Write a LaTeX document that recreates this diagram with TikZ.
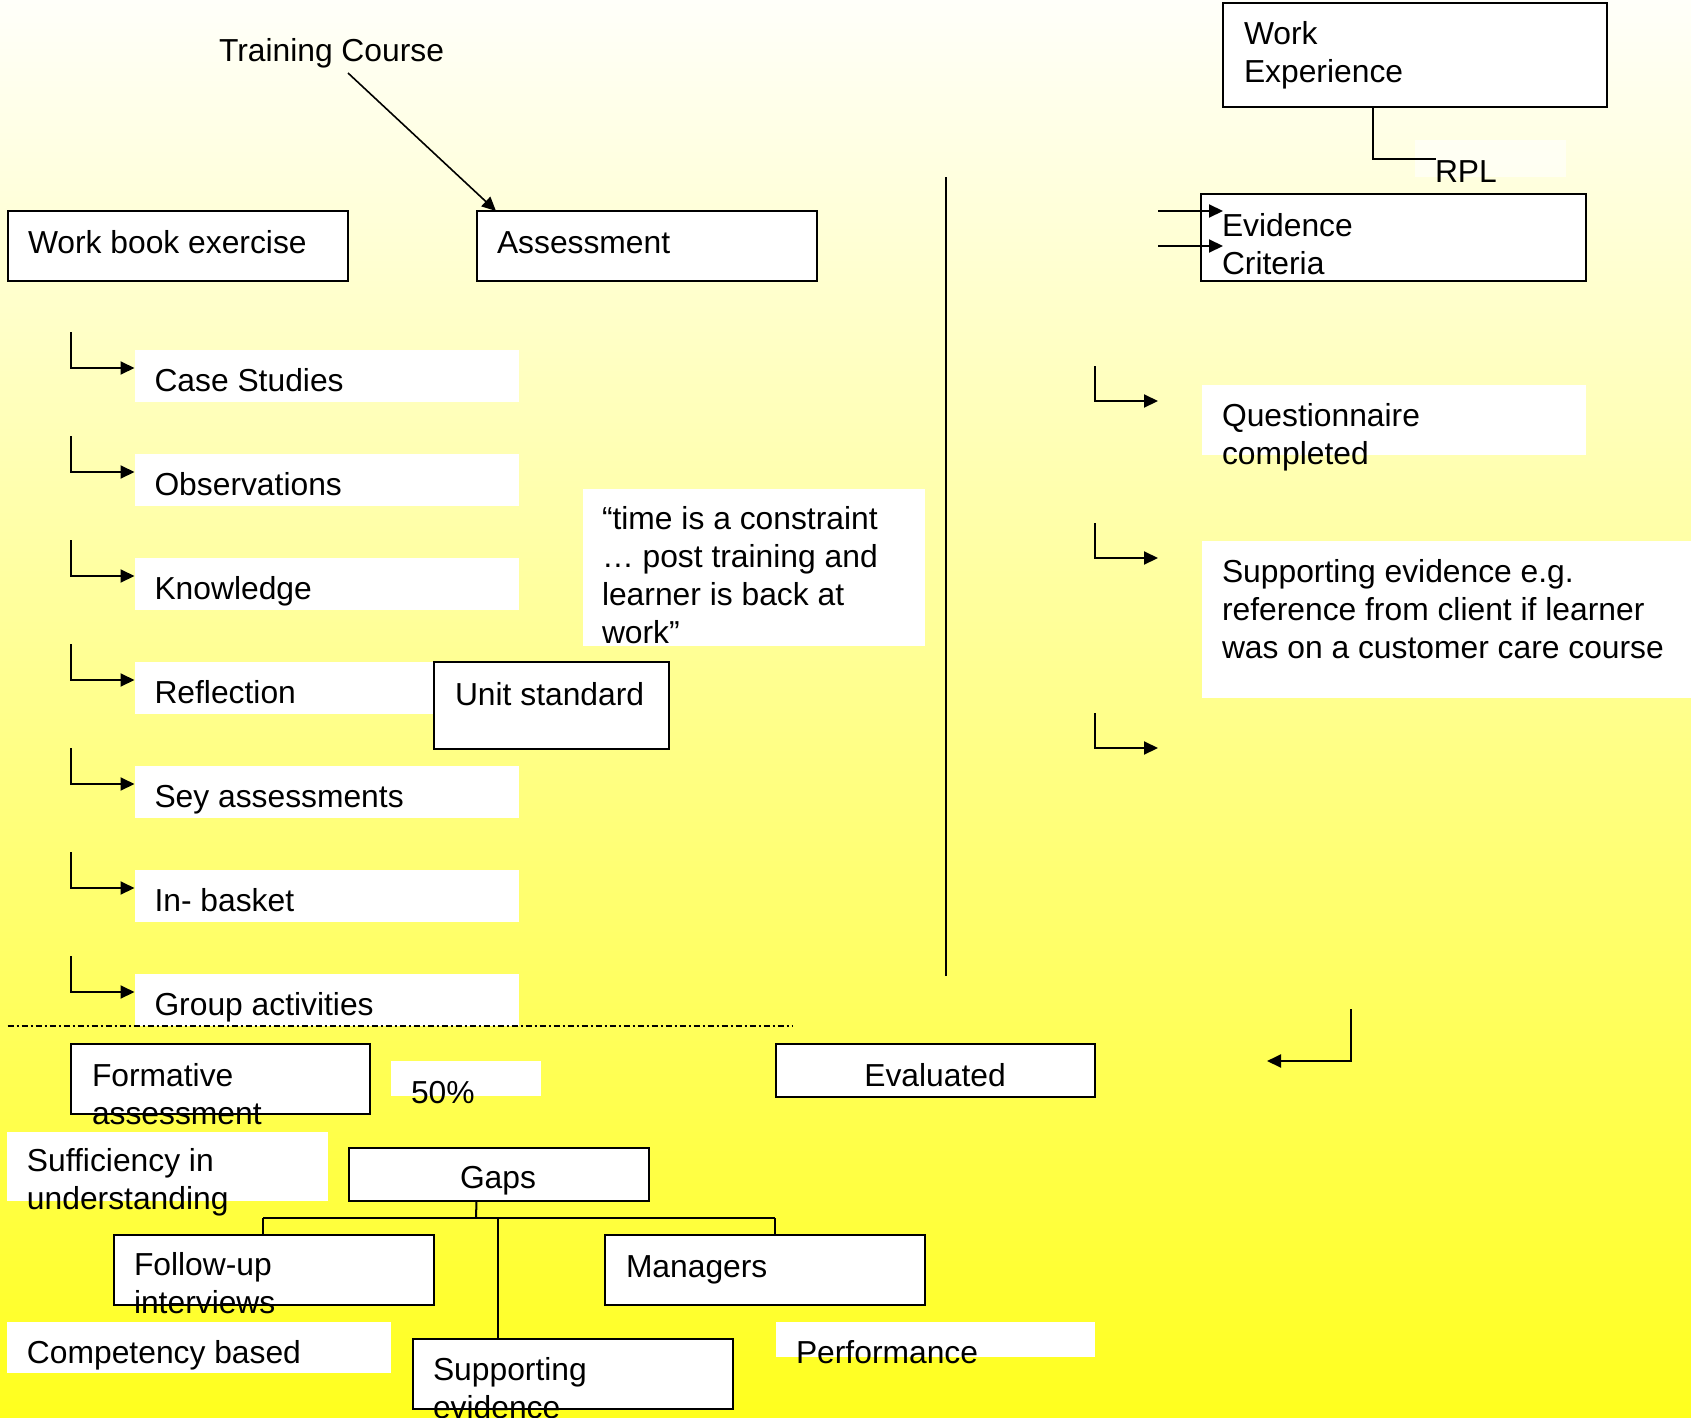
\documentclass[tikz,border=0pt]{standalone}
\usepackage{fontspec}
\setmainfont{Liberation Sans}
\usetikzlibrary{arrows.meta}

\definecolor{bgtop}{RGB}{255,255,250}
\definecolor{bgmid}{RGB}{255,255,170}
\definecolor{bgbot}{RGB}{255,255,30}

% multi-line labels are placed by the baseline of their last line
\tikzset{
  lbl/.style={inner sep=0pt, outer sep=0pt, anchor=base west, align=left,
              font=\fontsize{31.8}{38}\selectfont},
  lblc/.style={lbl, anchor=base, align=center},
  boxframe/.style={draw=black, line width=2pt, fill=white, inner sep=0pt,
                   outer sep=0pt, anchor=north west},
  whitepatch/.style={fill=white, draw=none, inner sep=0pt, outer sep=0pt,
                     anchor=north west},
  link/.style={line width=2pt},
  arrowlink/.style={link, -{Triangle[length=14pt,width=13pt]}},
  dashdotline/.style={line width=2pt, dash pattern=on 6pt off 3pt on 2pt off 3pt},
}

\begin{document}
\begin{tikzpicture}[x=1pt, y=-1pt]
  % page and background gradient
  \useasboundingbox (0,0) rectangle (1691,1418);
  \shade[top color=bgtop, middle color=bgmid, bottom color=bgbot]
    (0,0) rectangle (1691,1418);

  % ---------- upper left: training course ----------
  \node[lbl] (tc) at (219,62) {Training Course};
  \node[boxframe, minimum width=340pt, minimum height=70pt] (wb) at (7.5,211) {};
  \node[lbl] (wbt) at (28,253) {Work book exercise};
  \node[boxframe, minimum width=340pt, minimum height=70pt] (as) at (477,211) {};
  \node[lbl] (ast) at (497,253) {Assessment};
  \coordinate (tcfoot) at (348,73);
  \coordinate (astip) at (496,211);
  \draw[arrowlink, line width=1.6pt] (tcfoot) -- (astip);

  % list of assessment methods
  \foreach \i/\nm/\txt in {0/cs/Case Studies, 1/ob/Observations, 2/kn/Knowledge,
      3/rf/Reflection, 4/sa/Sey assessments, 5/ib/In- basket, 6/ga/Group activities} {
    \pgfmathsetmacro\yy{368+104*\i}
    \node[whitepatch, minimum width=384.5pt, minimum height=52pt] (\nm box) at (134.5,{\yy-18}) {};
    \node[lbl] (\nm txt) at (154.5,{\yy+23}) {\txt};
    \coordinate (\nm top) at (71,{\yy-36});
    \coordinate (\nm tip) at (134.5,\yy);
    \draw[arrowlink] (\nm top) |- (\nm tip);
  }

  % quotation
  \node[whitepatch, minimum width=342pt, minimum height=157pt] (qbox) at (583,489) {};
  \node[lbl] (qtxt) at (602,643) {“time is a constraint\\… post training and\\learner is back at\\work”};

  % unit standard
  \node[boxframe, minimum width=235pt, minimum height=87pt] (us) at (434,662) {};
  \node[lbl] (ust) at (455,705) {Unit standard};

  % divider
  \coordinate (divtop) at (946,177);
  \coordinate (divbot) at (946,976);
  \draw[link] (divtop) -- (divbot);

  % ---------- upper right: work experience ----------
  \node[boxframe, minimum width=384pt, minimum height=104pt] (we) at (1223,3) {};
  \node[lbl] (wet) at (1244,83) {Work\\Experience};
  \node[whitepatch, minimum width=151pt, minimum height=37pt, fill opacity=0.6] (rplbox) at (1415,140) {};
  \node[lbl] (rpl) at (1435,182) {RPL};
  \coordinate (rplend) at (1436,159);
  \draw[link] ([xshift=-42pt]we.south) |- (rplend);

  \node[boxframe, minimum width=385pt, minimum height=87pt] (ev) at (1201,194) {};
  \node[lbl] (evt) at (1222,274) {Evidence\\Criteria};
  \coordinate (evinA) at (1158,211);
  \coordinate (evtipA) at (1223,211);
  \coordinate (evinB) at (1158,246);
  \coordinate (evtipB) at (1223,246);
  \draw[arrowlink] (evinA) -- (evtipA);
  \draw[arrowlink] (evinB) -- (evtipB);

  \foreach \nm/\yy in {ra/401, rb/558, rc/748} {
    \coordinate (\nm top) at (1095,{\yy-35});
    \coordinate (\nm tip) at (1158,\yy);
    \draw[arrowlink] (\nm top) |- (\nm tip);
  }
  \node[whitepatch, minimum width=384pt, minimum height=70pt] (qnbox) at (1202,385) {};
  \node[lbl] (qnt) at (1222,464) {Questionnaire\\completed};
  \node[whitepatch, minimum width=489pt, minimum height=157pt] (sebox) at (1202,541) {};
  \node[lbl] (set) at (1222,658) {Supporting evidence e.g.\\reference from client if learner\\was on a customer care course};

  % ---------- lower part ----------
  \coordinate (dashL) at (7.5,1026);
  \coordinate (dashR) at (793,1026);
  \draw[dashdotline] (dashL) -- (dashR);

  \coordinate (backtop) at (1351,1009);
  \coordinate (backtip) at (1267,1061);
  \draw[arrowlink] (backtop) |- (backtip);

  \node[boxframe, minimum width=299pt, minimum height=70pt] (fa) at (71,1044) {};
  \node[lbl] (fat) at (92,1124) {Formative\\assessment};
  \node[whitepatch, minimum width=150pt, minimum height=35pt] (pcbox) at (391,1061) {};
  \node[lbl] (pct) at (411,1103) {50\%};
  \node[boxframe, minimum width=319.5pt, minimum height=53pt] (evl) at (775.5,1044) {};
  \node[lblc] (evlt) at (935,1086) {Evaluated};

  \node[whitepatch, minimum width=321pt, minimum height=69pt] (sfbox) at (7,1132) {};
  \node[lbl] (sft) at (27,1209) {Sufficiency in\\understanding};

  \node[boxframe, minimum width=300pt, minimum height=53pt] (gp) at (348.5,1148) {};
  \node[lblc] (gpt) at (498,1188) {Gaps};

  \node[boxframe, minimum width=320pt, minimum height=70pt] (fu) at (114,1235) {};
  \node[lbl] (fut) at (134,1313) {Follow-up\\interviews};
  \node[boxframe, minimum width=320pt, minimum height=70pt] (mg) at (605,1235) {};
  \node[lbl] (mgt) at (626,1277) {Managers};

  \node[whitepatch, minimum width=384pt, minimum height=51pt] (cbbox) at (7,1322) {};
  \node[lbl] (cbt) at (27,1363) {Competency based};
  \node[boxframe, minimum width=320pt, minimum height=70pt] (sp) at (413,1339) {};
  \node[lbl] (spt) at (433,1418) {Supporting\\evidence};
  \node[whitepatch, minimum width=319.5pt, minimum height=35pt] (pfbox) at (775.5,1322) {};
  \node[lbl] (pft) at (796,1363) {Performance};

  % tree below Gaps
  \coordinate (bus) at (476,1218);
  \coordinate (busL) at (263,1218);
  \coordinate (busR) at (775,1218);
  \coordinate (busS) at (498,1218);
  \draw[link] ([xshift=-22pt]gp.south) -- (bus);
  \draw[link] (busL) -- (busR);
  \draw[link] (busL) -- (busL |- fu.north);
  \draw[link] (busR) -- (busR |- mg.north);
  \draw[link, line width=1.5pt] (busS) -- (busS |- sp.north);
\end{tikzpicture}
\end{document}
